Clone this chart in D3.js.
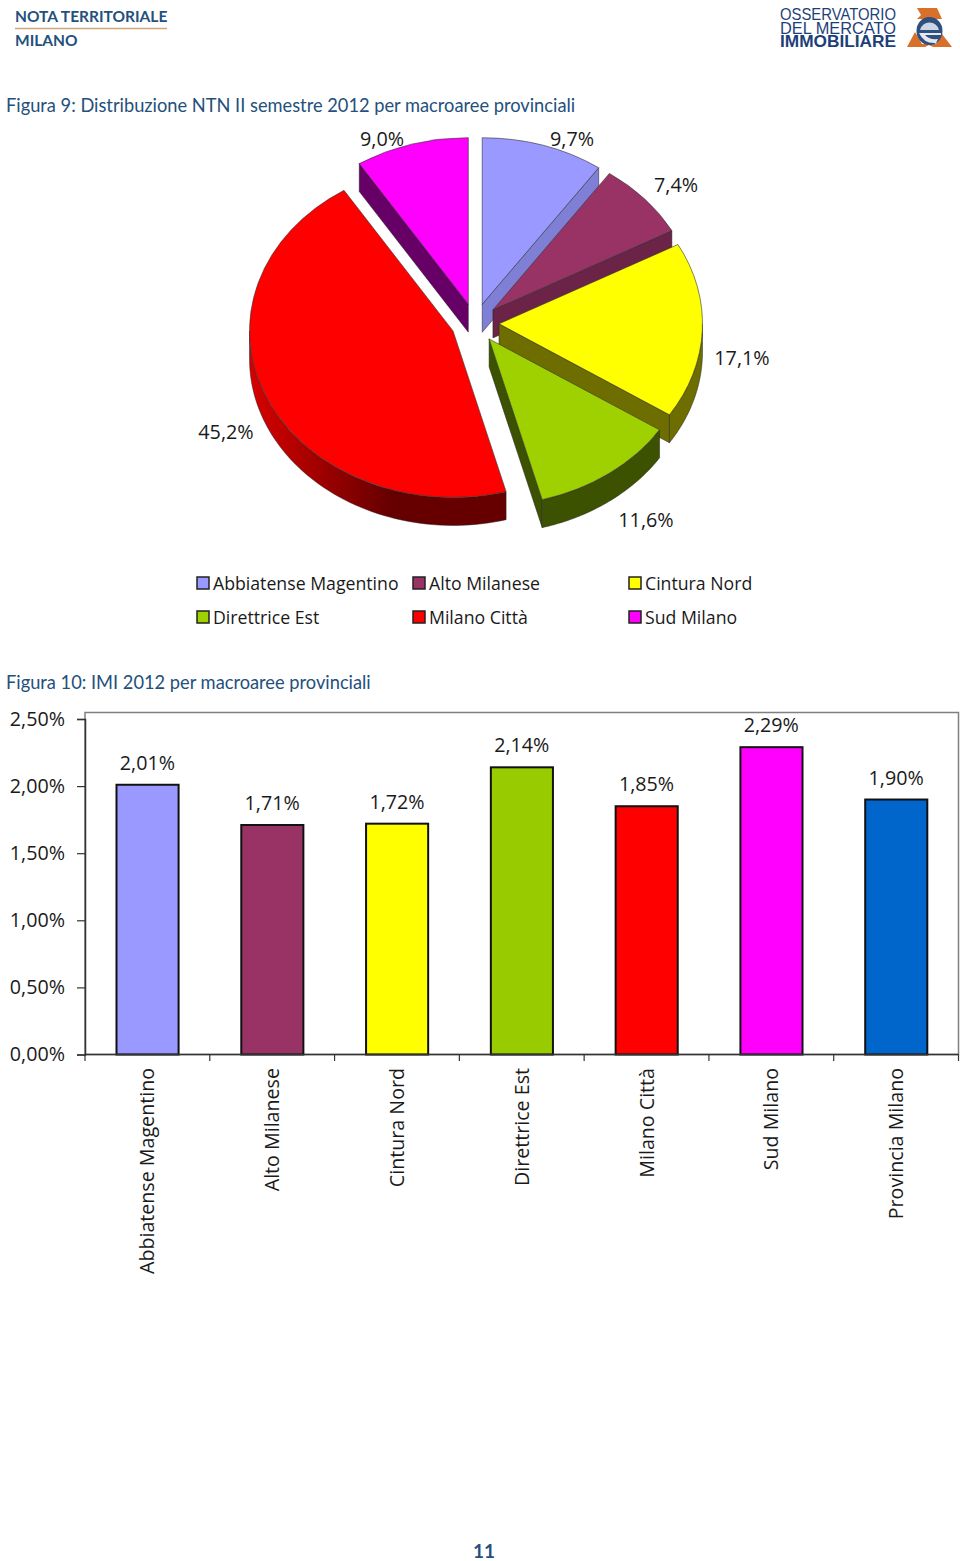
<!DOCTYPE html>
<html>
<head>
<meta charset="utf-8">
<script src="https://cdn.jsdelivr.net/npm/d3@7"></script>
<style>
  html, body { margin: 0; padding: 0; background: #fff; }
  svg { display: block; }
  text { font-family: "Open Sans", sans-serif; }
  .doc { font-family: Lato, sans-serif; fill: #24507c; }
  .chart { fill: #1a1a1a; }
</style>
</head>
<body>
<div id="page"></div>
<script>
// data
var pieCategories = ["Abbiatense Magentino", "Alto Milanese", "Cintura Nord", "Direttrice Est", "Milano Città", "Sud Milano"];
var pieValues = [9.7, 7.4, 17.1, 11.6, 45.2, 9.0];
var pieColors = ["#9999ff", "#993366", "#ffff00", "#9fd100", "#ff0000", "#ff00ff"];
var pieWalls = ["#7f7fd6", "#6b2348", "#6e6e00", "#3d5200", "#7a0000", "#660066"];
var pieRimEdge = ["#7f7fd6", "#6b2348", "#8a8a00", "#3d5200", "#d80000", "#660066"];

var barCategories = ["Abbiatense Magentino", "Alto Milanese", "Cintura Nord", "Direttrice Est", "Milano Città", "Sud Milano", "Provincia Milano"];
var barValues = [2.01, 1.71, 1.72, 2.14, 1.85, 2.29, 1.90];
var barColors = ["#9999ff", "#993366", "#ffff00", "#99cc00", "#ff0000", "#ff00ff", "#0066cc"];
var yTicks = [0, 0.5, 1, 1.5, 2, 2.5];

var svg = d3.select("#page").append("svg").attr("width", 960).attr("height", 1561);

// intestazione
svg.append("text").attr("class", "doc").attr("x", 15).attr("y", 22).attr("font-size", 15.5).attr("font-weight", 700).text("NOTA TERRITORIALE");
svg.append("line").attr("x1", 15).attr("x2", 167).attr("y1", 28.5).attr("y2", 28.5).attr("stroke", "#d0a878").attr("stroke-width", 1.5);
svg.append("text").attr("class", "doc").attr("x", 15).attr("y", 46).attr("font-size", 15.5).attr("font-weight", 700).text("MILANO");

// logo
var logo = svg.append("g");
var logoLines = ["OSSERVATORIO", "DEL MERCATO", "IMMOBILIARE"];
logo.selectAll("text").data(logoLines).enter().append("text")
  .attr("x", 780).attr("y", (d, i) => 20 + i * 13.5)
  .attr("font-size", 16.5)
  .attr("font-weight", (d, i) => i == 2 ? 700 : 400)
  .style("font-family", "'Liberation Sans', sans-serif")
  .attr("fill", "#1d3f78")
  .attr("textLength", 116).attr("lengthAdjust", "spacingAndGlyphs")
  .text(d => d);
logo.append("path").attr("d", "M917,8 H937 L942,19 H917 L921,15 Z").attr("fill", "#d9702a");
logo.append("path").attr("d", "M907,47 L915,32 L922,44 H936 L942,34 L952,47 H933 L929,45 L925,47 Z").attr("fill", "#d9702a");
logo.append("ellipse").attr("cx", 929.5).attr("cy", 31).attr("rx", 13).attr("ry", 14).attr("fill", "#2f4f7f");
logo.append("path").attr("d", "M920,30 A10,11 0 0 1 939,30 Z").attr("fill", "#ccd5e2");
logo.append("path").attr("d", "M919,33 H941 V35 H925 Q929,40 938,39 L936,43 Q924,44 919,33 Z").attr("fill", "#e4e8ef");

svg.append("text").attr("class", "doc").attr("x", 6).attr("y", 112).attr("font-size", 18.25).text("Figura 9: Distribuzione NTN II semestre 2012 per macroaree provinciali");
svg.append("text").attr("class", "doc").attr("x", 6).attr("y", 689).attr("font-size", 18.25).text("Figura 10: IMI 2012 per macroaree provinciali");

/////////////// torta 3D ///////////////
var cx = 475, cy = 323, rx = 203.5, ry = 166.5, depth = 28, explode = 0.118;

var pieData = d3.pie().sort(null)(pieValues);
pieData.forEach(function (d, i) {
  d.i = i;
  var mid = (d.startAngle + d.endAngle) / 2;
  d.ax = cx + explode * rx * Math.sin(mid);
  d.ay = cy - explode * ry * Math.cos(mid);
});

function edge(d, a) {
  return [d.ax + rx * Math.sin(a), d.ay - ry * Math.cos(a)];
}

var defs = svg.append("defs");
var lineGen = d3.line();
var arcGen = d3.arc().innerRadius(0).outerRadius(rx);

// ordine di disegno: dal fondo verso il davanti
var order = [5, 0, 1, 2, 3, 4];
order.forEach(function (i) {
  var d = pieData[i];
  var g = svg.append("g");

  // pareti laterali
  var wallAngle = null;
  if (d.endAngle < Math.PI) wallAngle = d.endAngle;
  else if (d.startAngle > Math.PI) wallAngle = d.startAngle;
  if (wallAngle !== null) {
    var p = edge(d, wallAngle);
    g.append("path")
      .attr("d", lineGen([[d.ax, d.ay], p, [p[0], p[1] + depth], [d.ax, d.ay + depth]]) + "Z")
      .attr("fill", pieWalls[i]).attr("stroke", "#222").attr("stroke-width", 0.5);
  }

  // bordo curvo frontale
  var a0 = Math.max(d.startAngle, Math.PI / 2), a1 = Math.min(d.endAngle, Math.PI * 1.5);
  if (a1 > a0) {
    var steps = d3.range(0, 61).map(k => a0 + (a1 - a0) * k / 60);
    var top = steps.map(a => edge(d, a));
    var bottom = steps.slice().reverse().map(a => { var q = edge(d, a); return [q[0], q[1] + depth]; });
    var x0 = d3.min(top, q => q[0]), x1 = d3.max(top, q => q[0]);
    var grad = defs.append("linearGradient").attr("id", "rim" + i)
      .attr("gradientUnits", "userSpaceOnUse").attr("x1", x0).attr("x2", x1).attr("y1", 0).attr("y2", 0);
    grad.append("stop").attr("offset", "0%").attr("stop-color", i == 4 ? pieRimEdge[i] : pieWalls[i]);
    grad.append("stop").attr("offset", i == 4 ? "55%" : "100%").attr("stop-color", pieWalls[i] == "#7a0000" ? "#660000" : pieWalls[i]);
    g.append("path").attr("d", lineGen(top.concat(bottom)) + "Z")
      .attr("fill", "url(#rim" + i + ")").attr("stroke", "#222").attr("stroke-width", 0.5);
  }

  // faccia superiore
  g.append("path")
    .attr("d", arcGen(d))
    .attr("transform", "translate(" + d.ax + "," + d.ay + ") scale(1," + (ry / rx) + ")")
    .attr("fill", pieColors[i]).attr("stroke", "#333").attr("stroke-width", 0.6)
    .attr("vector-effect", "non-scaling-stroke");
});

// etichette della torta
var pieLabelX = [572, 676, 742, 646, 226, 382];
var pieLabelY = [146, 192, 365, 527, 439, 146];
svg.selectAll(".pieLabel").data(pieValues).enter().append("text")
  .attr("class", "pieLabel chart")
  .attr("x", (d, i) => pieLabelX[i]).attr("y", (d, i) => pieLabelY[i])
  .attr("text-anchor", "middle").attr("font-size", 19.8)
  .text(d => d.toFixed(1).replace(".", ",") + "%");

// legenda
var legendX = [197, 413, 629];
var legendY = [583, 617];
var legend = svg.selectAll(".leg").data(pieCategories).enter().append("g")
  .attr("class", "leg")
  .attr("transform", (d, i) => "translate(" + legendX[i % 3] + "," + legendY[Math.floor(i / 3)] + ")");
legend.append("rect").attr("x", 0).attr("y", -6).attr("width", 12).attr("height", 12)
  .attr("fill", (d, i) => pieColors[i]).attr("stroke", "#222").attr("stroke-width", 1.5);
legend.append("text").attr("class", "chart").attr("x", 16).attr("y", 6.5).attr("font-size", 17.7).text(d => d);

/////////////// istogramma ///////////////
var y = d3.scaleLinear().domain([0, 2.5]).range([1054.5, 719]);
var x = d3.scaleBand().domain(barCategories).range([85, 958.5]).paddingInner(0.5).paddingOuter(0.25);
var fmt = v => v.toFixed(2).replace(".", ",") + "%";

// cornice
svg.append("rect").attr("x", 85).attr("y", 712.5).attr("width", 873.5).attr("height", 342)
  .attr("fill", "none").attr("stroke", "#808080").attr("stroke-width", 1.5);

svg.selectAll(".bar").data(barValues).enter().append("rect")
  .attr("class", "bar")
  .attr("x", (d, i) => x(barCategories[i]) + 0.3)
  .attr("y", d => y(d))
  .attr("width", x.bandwidth() - 0.3)
  .attr("height", d => y(0) - y(d))
  .attr("fill", (d, i) => barColors[i])
  .attr("stroke", "#111").attr("stroke-width", 2);

var yAxis = d3.axisLeft(y).tickValues(yTicks).tickFormat(fmt).tickSize(8).tickPadding(12);
var yG = svg.append("g").attr("transform", "translate(85,0)").call(yAxis);
yG.select(".domain").attr("stroke", "#333").attr("stroke-width", 1.5);
yG.selectAll(".tick line").attr("stroke", "#333").attr("stroke-width", 1.2);
yG.selectAll("text").attr("class", "chart").attr("font-size", 19.7).style("font-family", '"Open Sans", sans-serif').attr("fill", "#1a1a1a");

// asse x
svg.append("line").attr("x1", 85).attr("x2", 958.5).attr("y1", 1054.5).attr("y2", 1054.5).attr("stroke", "#333").attr("stroke-width", 1.5);
var xTickPos = barCategories.map(c => x(c) - x.step() * 0.25).concat([958.5]);
svg.selectAll(".xtick").data(xTickPos).enter().append("line")
  .attr("class", "xtick").attr("x1", d => d).attr("x2", d => d)
  .attr("y1", 1054.5).attr("y2", 1061).attr("stroke", "#333").attr("stroke-width", 1.2);

svg.selectAll(".xlab").data(barCategories).enter().append("text")
  .attr("class", "xlab chart")
  .attr("transform", d => "translate(" + (x(d) + x.bandwidth() / 2 + 7) + ",1068) rotate(-90)")
  .attr("text-anchor", "end").attr("font-size", 19.65)
  .text(d => d);

svg.selectAll(".val").data(barValues).enter().append("text")
  .attr("class", "val chart")
  .attr("x", (d, i) => x(barCategories[i]) + x.bandwidth() / 2)
  .attr("y", d => y(d) - 15)
  .attr("text-anchor", "middle").attr("font-size", 19.7)
  .text(fmt);

// numero di pagina
svg.append("text").attr("class", "doc").attr("x", 484).attr("y", 1558).attr("text-anchor", "middle")
  .attr("font-size", 19).attr("font-weight", 700).text("11");
</script>
</body>
</html>
